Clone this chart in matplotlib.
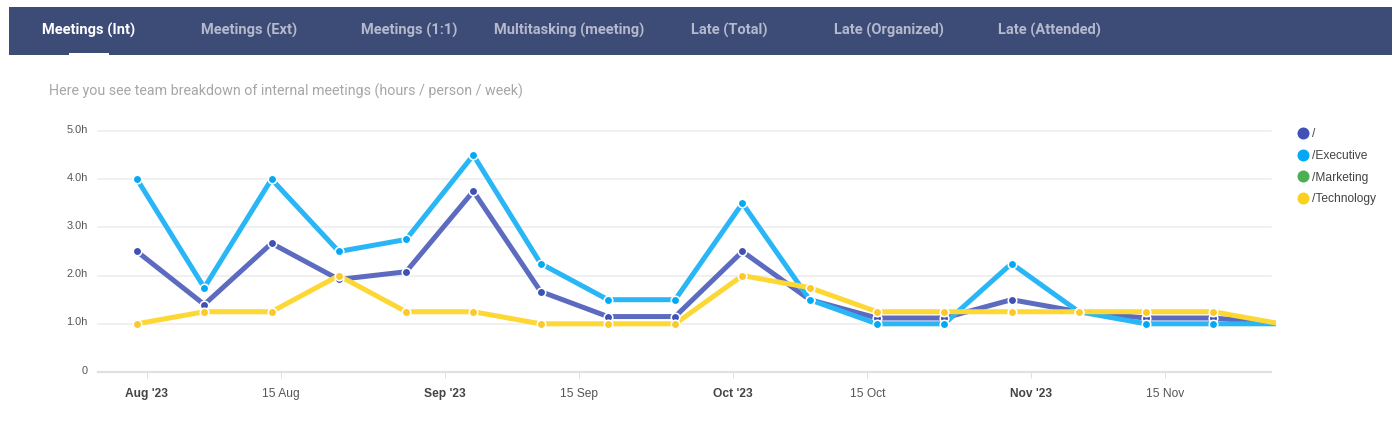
import matplotlib
matplotlib.use("Agg")
import matplotlib.pyplot as plt
import matplotlib.transforms as mtrans
from matplotlib.lines import Line2D
from matplotlib.patches import Rectangle
import pandas as pd

W, H = 1392, 439
weeks = pd.date_range("2023-07-31", periods=18, freq="7D")
root = [2.5, 1.4, 2.67, 1.92, 2.08, 3.75, 1.67, 1.15, 1.15, 2.5, 1.5, 1.12, 1.12, 1.5, 1.25, 1.12, 1.12, 1.0]
executive = [4, 1.75, 4, 2.5, 2.75, 4.5, 2.25, 1.5, 1.5, 3.5, 1.5, 1, 1, 2.25, 1.25, 1, 1, 1]
technology = [1, 1.25, 1.25, 2, 1.25, 1.25, 1, 1, 1, 2, 1.75, 1.25, 1.25, 1.25, 1.25, 1.25, 1.25, 1]
tabs = ["Meetings (Int)", "Meetings (Ext)", "Meetings (1:1)", "Multitasking (meeting)",
        "Late (Total)", "Late (Organized)", "Late (Attended)"]
legend_names = ["/", "/Executive", "/Marketing", "/Technology"]
y_ticks = [0, 1, 2, 3, 4, 5]
y_labels = ["0", "1.0h", "2.0h", "3.0h", "4.0h", "5.0h"]
x_ticks = ["2023-08-01", "2023-08-15", "2023-09-01", "2023-09-15", "2023-10-01", "2023-10-15", "2023-11-01", "2023-11-15"]
x_labels = ["Aug '23", "15 Aug", "Sep '23", "15 Sep", "Oct '23", "15 Oct", "Nov '23", "15 Nov"]

fig = plt.figure(figsize=((W + 0.01) / 100, (H + 0.01) / 100), dpi=100, facecolor="white")
px = 0.72  # points per pixel at dpi 100

# header band
fig.add_artist(Rectangle((9 / W, 1 - 55 / H), (W - 9) / W, 48 / H, transform=fig.transFigure,
                         facecolor="#3d4b77", edgecolor="none"))
fig.add_artist(Rectangle((69 / W, 1 - 55 / H), 40 / W, 2 / H, transform=fig.transFigure,
                         facecolor="white", edgecolor="none", zorder=3))
tab_x = [89, 249, 409, 569, 729, 889, 1049]
for i, (t, x) in enumerate(zip(tabs, tab_x)):
    fig.text(x / W, 1 - 30.6 / H, t, ha="center", va="center", family="Roboto", weight="bold",
             fontsize=14.6 * px, color="white" if i == 0 else "#b4b9cc")
fig.text(49 / W, 1 - 91 / H, "Here you see team breakdown of internal meetings (hours / person / week)",
         ha="left", va="center", family="Roboto", fontsize=14.25 * px, color="#a6a6a6")

# plot area
L, R, T, B = 98, 1276, 131, 372
ax = fig.add_axes([L / W, 1 - B / H, (R - L) / W, (B - T) / H])
ax.patch.set_alpha(0)
for s in ax.spines.values():
    s.set_visible(False)
px_per_day = 9.61
start = weeks[0] - pd.Timedelta(days=(137 - L) / px_per_day)
end = start + pd.Timedelta(days=(R - L) / px_per_day)
ax.set_xlim(start, end)
ax.set_ylim(0, 5)

grid_end = (1271 - L) / (R - L)
for v in y_ticks:
    ax.axhline(v, 0, grid_end, color="#e0e0e0" if v == 0 else "#ececec",
               lw=(2.2 if v == 0 else 1.5) * px, zorder=1, clip_on=False)

series = [(root, "#5c6bc0", "#3f51b5"), (executive, "#29b6f6", "#03a9f4"), (technology, "#fdd835", "#fcc82a")]
for k, (vals, lc, mc) in enumerate(series):
    ax.plot(weeks, vals, color=lc, lw=5 * px, zorder=2 + k, solid_joinstyle="miter", solid_capstyle="butt")
for k, (vals, lc, mc) in enumerate(series):
    # the final week runs past the plot edge, so its marker is cut off
    ax.plot(weeks[:-1], vals[:-1], ls="none", marker="o", ms=8.5 * px, mfc=mc, mec="white",
            mew=1.6 * px, zorder=6 + k)

ax.set_yticks(y_ticks, y_labels)
ax.tick_params(axis="y", length=0, pad=10 * px, labelsize=11 * px, labelcolor="#555555")
up = mtrans.ScaledTranslation(0, 2.5 * px / 72, fig.dpi_scale_trans)
for t in ax.get_yticklabels():
    t.set_family("Liberation Sans")
    t.set_transform(t.get_transform() + up)

ax.set_xticks(pd.to_datetime(x_ticks), x_labels)
ax.tick_params(axis="x", length=6 * px, width=1 * px, color="#e0e0e0", pad=9.5 * px,
               labelsize=12 * px, labelcolor="#555555")
for t, s in zip(ax.get_xticklabels(), x_labels):
    t.set_family("Liberation Sans")
    if "'" in s:
        t.set_weight("bold")
        t.set_color("#444444")

legend_colors = ["#3f51b5", "#03a9f4", "#4caf50", "#fdd01f"]
handles = [Line2D([], [], ls="none", marker="o", ms=12 * px, mfc=c, mec="none") for c in legend_colors]
leg = fig.legend(handles, legend_names, loc="upper left", bbox_to_anchor=(1292 / W, 1 - 123.6 / H),
                 frameon=False, prop={"family": "Liberation Sans", "size": 12 * px},
                 labelcolor="#444444", labelspacing=0.8, handlelength=1.1, handletextpad=0.15,
                 borderpad=0.4, borderaxespad=0)

fig.savefig("out.png", dpi=100, facecolor="white")
